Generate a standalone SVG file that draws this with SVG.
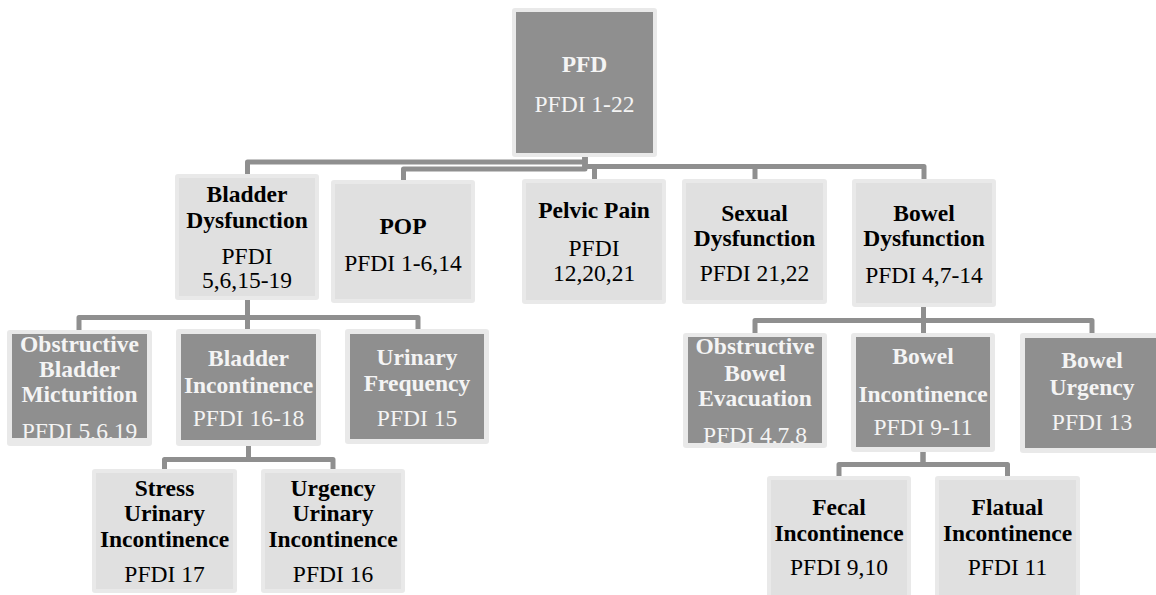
<svg xmlns="http://www.w3.org/2000/svg" width="1156" height="595" viewBox="0 0 1156 595">
<defs>
<style>
.o{fill:#e9e9e9}
.l{fill:#e0e0e0}
.d{fill:#8f8f8f}
.b{font-weight:bold}
.w{fill:#f4f4f4}
.k{fill:#000}
.c{fill:none;stroke:#8f8f8f;stroke-width:5;stroke-linejoin:round}
</style>
<clipPath id="cOBM"><rect x="12" y="334" width="135" height="104"/></clipPath>
<clipPath id="cOBE"><rect x="688" y="337" width="134" height="106"/></clipPath>
</defs>
<rect width="1156" height="595" fill="#fff"/>
<g id="connectors">
<path class="c" d="M585 157V162H247.5V174"/>
<path class="c" d="M585 157V169H403.5V180"/>
<path class="c" d="M585 157V166.5H594.5V179"/>
<path class="c" d="M585 157V166.5H755V179"/>
<path class="c" d="M585 157V166.5H924V179"/>
<path class="c" d="M247.5 300V317.5H79V330"/>
<path class="c" d="M247.5 300V329"/>
<path class="c" d="M247.5 300V317.5H418V329"/>
<path class="c" d="M923.5 307V320.5H755V333"/>
<path class="c" d="M923.5 307V333"/>
<path class="c" d="M923.5 307V320.5H1092V333"/>
<path class="c" d="M248.5 446V459.5H164.5V469"/>
<path class="c" d="M248.5 446V459.5H333V469"/>
<path class="c" d="M923 452V464.5H839V476"/>
<path class="c" d="M923 452V464.5H1007.5V476"/>
</g>
<g font-family="Liberation Serif" font-size="23.5" text-anchor="middle">
<g id="pfd" class="w">
<rect class="o" x="512" y="8" width="145" height="149" rx="3"/>
<rect class="d" x="516" y="12" width="137" height="141"/>
<text class="b" x="584.5" y="71.7">PFD</text>
<text x="584.5" y="111.7">PFDI 1-22</text>
</g>
<g id="bladder-dysfunction" class="k">
<rect class="o" x="175" y="174" width="144" height="126" rx="3"/>
<rect class="l" x="179" y="178" width="136" height="118"/>
<text class="b" x="247" y="201.7">Bladder</text>
<text class="b" x="247" y="227.7">Dysfunction</text>
<text x="247" y="263.5">PFDI</text>
<text x="247" y="288">5,6,15-19</text>
</g>
<g id="pop" class="k">
<rect class="o" x="331" y="180" width="144" height="123" rx="3"/>
<rect class="l" x="335" y="184" width="136" height="115"/>
<text class="b" x="403" y="234">POP</text>
<text x="403" y="270.7">PFDI 1-6,14</text>
</g>
<g id="pelvic-pain" class="k">
<rect class="o" x="522" y="179" width="144" height="125" rx="3"/>
<rect class="l" x="526" y="183" width="136" height="117"/>
<text class="b" x="594" y="218.3">Pelvic Pain</text>
<text x="594" y="256">PFDI</text>
<text x="594" y="280.7">12,20,21</text>
</g>
<g id="sexual-dysfunction" class="k">
<rect class="o" x="682" y="179" width="145" height="125" rx="3"/>
<rect class="l" x="686" y="183" width="137" height="117"/>
<text class="b" x="754.5" y="221">Sexual</text>
<text class="b" x="754.5" y="245.5">Dysfunction</text>
<text x="754.5" y="280.7">PFDI 21,22</text>
</g>
<g id="bowel-dysfunction" class="k">
<rect class="o" x="852" y="179" width="144" height="128" rx="3"/>
<rect class="l" x="856" y="183" width="136" height="120"/>
<text class="b" x="924" y="221">Bowel</text>
<text class="b" x="924" y="246">Dysfunction</text>
<text x="924" y="282.7">PFDI 4,7-14</text>
</g>
<g id="obstructive-bladder-micturition" class="w">
<rect class="o" x="7" y="330" width="145" height="116" rx="3"/>
<rect class="d" x="12" y="334" width="135" height="104"/>
<g clip-path="url(#cOBM)">
<text class="b" x="79.5" y="351.7">Obstructive</text>
<text class="b" x="79.5" y="376.7">Bladder</text>
<text class="b" x="79.5" y="401.7">Micturition</text>
<text x="79.5" y="438.5">PFDI 5,6,19</text>
</g>
</g>
<g id="bladder-incontinence" class="w">
<rect class="o" x="176" y="329" width="145" height="117" rx="3"/>
<rect class="d" x="181" y="334" width="135" height="106"/>
<text class="b" x="248.5" y="365.7">Bladder</text>
<text class="b" x="248.5" y="392.7">Incontinence</text>
<text x="248.5" y="425.7">PFDI 16-18</text>
</g>
<g id="urinary-frequency" class="w">
<rect class="o" x="345" y="329" width="144" height="115" rx="3"/>
<rect class="d" x="350" y="334" width="134" height="105"/>
<text class="b" x="417" y="365">Urinary</text>
<text class="b" x="417" y="390.7">Frequency</text>
<text x="417" y="426">PFDI 15</text>
</g>
<g id="obstructive-bowel-evacuation" class="w">
<rect class="o" x="683" y="333" width="144" height="115" rx="3"/>
<rect class="d" x="688" y="337" width="134" height="106"/>
<g clip-path="url(#cOBE)">
<text class="b" x="755" y="354.3">Obstructive</text>
<text class="b" x="755" y="380.7">Bowel</text>
<text class="b" x="755" y="405.5">Evacuation</text>
<text x="755" y="443">PFDI 4,7,8</text>
</g>
</g>
<g id="bowel-incontinence" class="w">
<rect class="o" x="851" y="333" width="144" height="119" rx="3"/>
<rect class="d" x="856" y="337" width="134" height="110"/>
<text class="b" x="923" y="364.3">Bowel</text>
<text class="b" x="923" y="401.7">Incontinence</text>
<text x="923" y="435">PFDI 9-11</text>
</g>
<g id="bowel-urgency" class="w">
<rect class="o" x="1020" y="333" width="144" height="120" rx="3"/>
<rect class="d" x="1025" y="338" width="134" height="110"/>
<text class="b" x="1092" y="368">Bowel</text>
<text class="b" x="1092" y="395">Urgency</text>
<text x="1092" y="430">PFDI 13</text>
</g>
<g id="stress-urinary-incontinence" class="k">
<rect class="o" x="92" y="469" width="145" height="124" rx="3"/>
<rect class="l" x="96" y="473" width="137" height="116"/>
<text class="b" x="164.5" y="496">Stress</text>
<text class="b" x="164.5" y="520.7">Urinary</text>
<text class="b" x="164.5" y="546.7">Incontinence</text>
<text x="164.5" y="581.7">PFDI 17</text>
</g>
<g id="urgency-urinary-incontinence" class="k">
<rect class="o" x="261" y="469" width="144" height="124" rx="3"/>
<rect class="l" x="265" y="473" width="136" height="116"/>
<text class="b" x="333" y="496">Urgency</text>
<text class="b" x="333" y="520.7">Urinary</text>
<text class="b" x="333" y="546.7">Incontinence</text>
<text x="333" y="581.7">PFDI 16</text>
</g>
<g id="fecal-incontinence" class="k">
<rect class="o" x="767" y="476" width="144" height="122" rx="3"/>
<rect class="l" x="771" y="480" width="136" height="118"/>
<text class="b" x="839" y="515">Fecal</text>
<text class="b" x="839" y="540.7">Incontinence</text>
<text x="839" y="575">PFDI 9,10</text>
</g>
<g id="flatual-incontinence" class="k">
<rect class="o" x="935" y="476" width="145" height="122" rx="3"/>
<rect class="l" x="939" y="480" width="137" height="118"/>
<text class="b" x="1007.5" y="515">Flatual</text>
<text class="b" x="1007.5" y="540.7">Incontinence</text>
<text x="1007.5" y="575">PFDI 11</text>
</g>
</g>
</svg>
